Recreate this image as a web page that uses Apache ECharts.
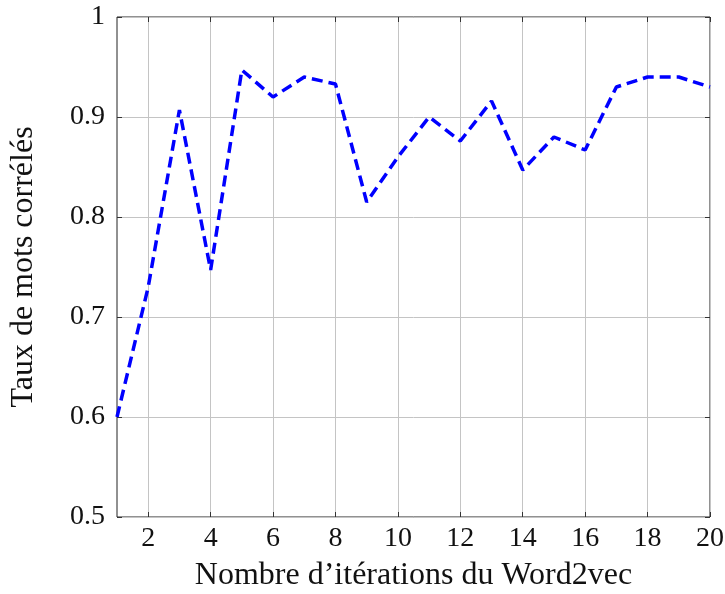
<!DOCTYPE html>
<html><head><meta charset="utf-8">
<script src="https://cdn.jsdelivr.net/npm/echarts@6/dist/echarts.min.js"></script>
<style>html,body{margin:0;padding:0;background:#fff}#c{width:725px;height:594px}</style>
</head><body><div id="c"></div>
<script>
const iterations = [1,2,3,4,5,6,7,8,9,10,11,12,13,14,15,16,17,18,19,20];
const tauxCorreles = [0.60,0.73,0.907,0.747,0.947,0.92,0.94,0.933,0.815,0.86,0.90,0.876,0.916,0.847,0.88,0.867,0.93,0.94,0.94,0.93];
const xTicks = [2,4,6,8,10,12,14,16,18,20];
const yTicks = [0.5,0.6,0.7,0.8,0.9,1];
const xTitle = "Nombre d’itérations du Word2vec";
const yTitle = "Taux de mots corrélés";

const font = "'Liberation Serif','DejaVu Serif',serif";
const fs = 28;
const ts = 32;
const chart = echarts.init(document.getElementById('c'));
const tick = {show:true, inside:true, length:5, lineStyle:{color:'#333',width:1}};
chart.setOption({
  animation:false,
  grid:{left:117, right:15, top:17, bottom:77, show:true, borderColor:'#222', borderWidth:1,
        outerBoundsMode:'none', containLabel:false},
  xAxis:[{
    type:'value', min:1, max:20,
    name:xTitle, nameLocation:'middle', nameGap:43,
    nameTextStyle:{fontFamily:font, fontSize:ts, color:'#111'},
    axisLine:{show:false},
    axisTick:Object.assign({customValues:xTicks}, tick),
    axisLabel:{customValues:xTicks, fontFamily:font, fontSize:fs, color:'#111', margin:8},
    splitLine:{show:true, lineStyle:{color:'#c4c4c4', width:1}}
  },{
    type:'value', min:1, max:20, position:'top',
    axisLine:{show:false},
    axisTick:Object.assign({customValues:xTicks}, tick),
    axisLabel:{show:false}, splitLine:{show:false}
  }],
  yAxis:[{
    type:'value', min:0.5, max:1, interval:0.1,
    name:yTitle, nameLocation:'middle', nameGap:77, nameRotate:90,
    nameTextStyle:{fontFamily:font, fontSize:ts, color:'#111'},
    axisLine:{show:false},
    axisTick:tick,
    axisLabel:{customValues:yTicks, fontFamily:font, fontSize:fs, color:'#111', margin:12,
      formatter:v=>String(Math.round(v*10)/10)},
    splitLine:{show:true, lineStyle:{color:'#c4c4c4', width:1}}
  },{
    type:'value', min:0.5, max:1, interval:0.1, position:'right',
    axisLine:{show:false}, axisTick:tick, axisLabel:{show:false}, splitLine:{show:false}
  }],
  series:[{
    type:'line',
    data:iterations.map((x,i)=>[x, tauxCorreles[i]]),
    showSymbol:false, symbol:'none',
    lineStyle:{color:'#0000ff', width:3.5, type:[11,6]},
    z:5
  }]
});
</script></body></html>
